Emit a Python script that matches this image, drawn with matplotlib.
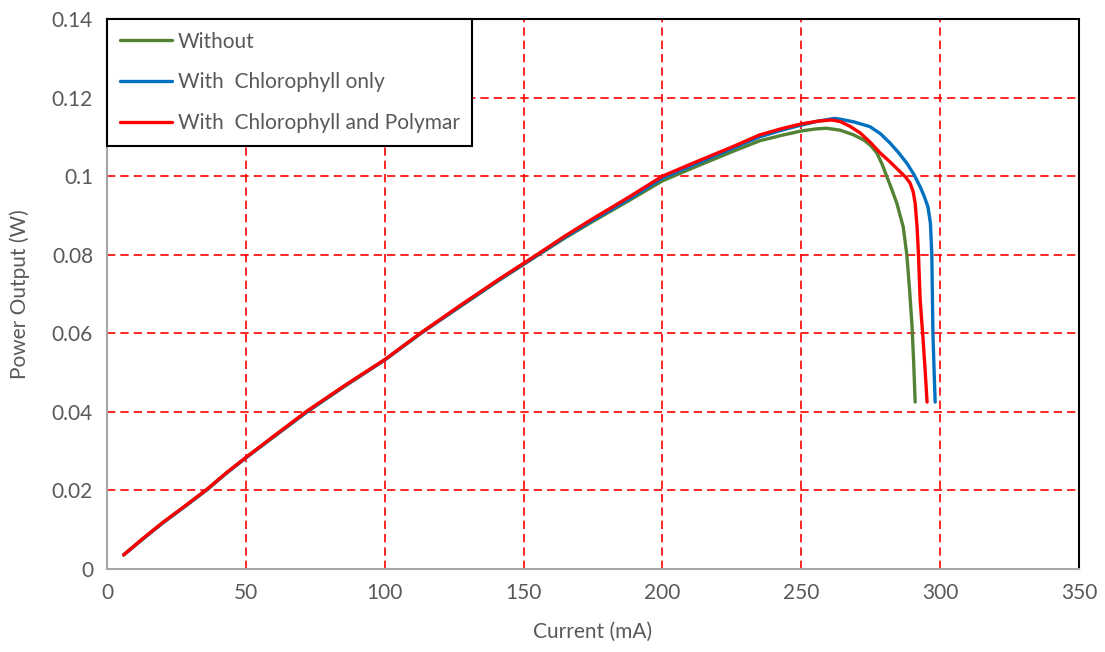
import matplotlib
matplotlib.use("Agg")
import matplotlib.pyplot as plt

plt.rcParams['font.family'] = ['Lato', 'DejaVu Sans']

# current (mA) and power (W)
i_without = [6, 13, 20, 28, 36, 43, 50, 60, 72, 86, 100, 113, 127, 141, 155, 165, 175, 188, 200, 213, 225, 235, 243, 250, 255, 259, 264, 268.5, 272.5, 275, 277.2, 279, 280.8, 282.6, 284.4, 286.7, 288, 289, 289.9, 290.5, 291]
p_without = [0.0036, 0.0077, 0.0117, 0.0159, 0.0202, 0.0244, 0.0283, 0.0336, 0.0400, 0.0467, 0.0532, 0.0600, 0.0667, 0.0734, 0.0798, 0.0843, 0.0885, 0.0938, 0.0988, 0.1027, 0.1062, 0.1090, 0.1104, 0.1115, 0.1120, 0.1122, 0.1117, 0.1106, 0.1092, 0.1078, 0.1059, 0.1032, 0.0999, 0.0966, 0.0931, 0.0871, 0.0800, 0.0710, 0.0616, 0.0520, 0.0425]

i_chloro = [6, 13, 20, 28, 36, 43, 50, 60, 72, 86, 100, 113, 127, 141, 155, 165, 175, 188, 200, 213, 225, 235, 243, 250, 256, 262, 264, 269, 274.7, 278.5, 282, 285, 288, 290.5, 292.8, 294.3, 295.6, 296.5, 297, 297.2, 297.4, 297.8, 298.2]
p_chloro = [0.0036, 0.0077, 0.0117, 0.0159, 0.0202, 0.0244, 0.0283, 0.0337, 0.0400, 0.0468, 0.0532, 0.0600, 0.0668, 0.0735, 0.0799, 0.0845, 0.0888, 0.0942, 0.0995, 0.1034, 0.1070, 0.1100, 0.1117, 0.1130, 0.1140, 0.1147, 0.1145, 0.1138, 0.1126, 0.1108, 0.1084, 0.1060, 0.1033, 0.1005, 0.0973, 0.0948, 0.0922, 0.0880, 0.0800, 0.0700, 0.0600, 0.0510, 0.0425]

i_poly = [6, 13, 20, 28, 36, 43, 50, 60, 72, 86, 100, 113, 127, 141, 155, 165, 175, 188, 200, 213, 225, 235, 243, 250, 256, 261, 264, 267.5, 271.2, 275, 278.4, 282, 285.6, 287.5, 289.2, 290.3, 291, 291.7, 292.2, 292.8, 293.8, 294.6, 295.3]
p_poly = [0.0036, 0.0078, 0.0118, 0.0160, 0.0203, 0.0245, 0.0284, 0.0338, 0.0402, 0.0469, 0.0533, 0.0601, 0.0670, 0.0737, 0.0801, 0.0848, 0.0892, 0.0947, 0.1000, 0.1039, 0.1074, 0.1105, 0.1121, 0.1133, 0.1140, 0.1143, 0.1139, 0.1127, 0.1110, 0.1085, 0.1059, 0.1036, 0.1011, 0.0998, 0.0982, 0.0960, 0.0931, 0.0870, 0.0800, 0.0685, 0.0590, 0.0505, 0.0425]

fig = plt.figure(figsize=(11.05, 6.52), dpi=100)
ax = fig.add_axes([107/1105, 1 - 569/652, 972/1105, 550/652])

ax.plot(i_without, p_without, color='#548235', lw=2.4, label='Without', solid_capstyle='round', solid_joinstyle='round')
ax.plot(i_chloro, p_chloro, color='#0070C0', lw=2.4, label='With  Chlorophyll only', solid_capstyle='round', solid_joinstyle='round')
ax.plot(i_poly, p_poly, color='#FF0000', lw=2.4, label='With  Chlorophyll and Polymar', solid_capstyle='round', solid_joinstyle='round')

ax.set_xlim(0, 350)
ax.set_ylim(0, 0.14)
ax.set_xticks(range(0, 351, 50))
ax.set_yticks([0, 0.02, 0.04, 0.06, 0.08, 0.1, 0.12, 0.14])
ax.set_yticklabels(['0', '0.02', '0.04', '0.06', '0.08', '0.1', '0.12', '0.14'])
ax.grid(True, color='#FF0000', linestyle=(0, (5, 3)), lw=1.2)
ax.set_axisbelow(True)

for s in ['left', 'bottom']:
    ax.spines[s].set_color('#A6A6A6')
    ax.spines[s].set_linewidth(1.5)
for s in ['top', 'right']:
    ax.spines[s].set_color('black')
    ax.spines[s].set_linewidth(1.5)

ax.tick_params(length=0, labelsize=15, labelcolor='#595959', pad=10)
ax.set_xlabel('Current (mA)', fontsize=15, color='#595959', labelpad=14)
ax.set_ylabel('Power Output (W)', fontsize=15, color='#595959', labelpad=16)

leg = ax.legend(loc='upper left', bbox_to_anchor=(0, 1), borderaxespad=0, fontsize=15,
                fancybox=False, framealpha=1, edgecolor='black', labelspacing=1.0,
                handlelength=2.5, handletextpad=0.3, borderpad=0.6)
leg.get_frame().set_linewidth(1.5)
for t in leg.get_texts():
    t.set_color('#595959')

fig.savefig('out.png', dpi=100)
